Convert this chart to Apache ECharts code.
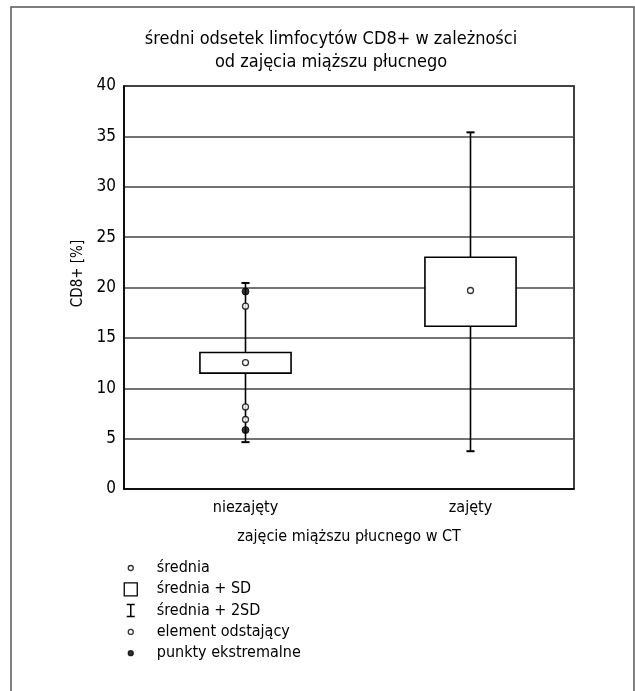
<!DOCTYPE html>
<html>
<head>
<meta charset="utf-8">
<script src="https://cdn.jsdelivr.net/npm/echarts@6/dist/echarts.min.js"></script>
<style>
html,body{margin:0;padding:0;background:#fff;}
#chart{width:635px;height:691px;}
</style>
</head>
<body>
<div id="chart"></div>
<script>
// ---- data ----
const categories = ['niezajęty', 'zajęty'];
const means      = [12.55, 19.7];
const sdLow      = [11.5, 16.15];
const sdHigh     = [13.55, 23.0];
const sd2Low     = [4.65, 3.75];
const sd2High    = [20.45, 35.4];
const outliers   = [[0, 18.15], [0, 8.15], [0, 6.9]];   // element odstający
const extremes   = [[0, 19.6], [0, 5.85]];              // punkty ekstremalne
const yTicks     = [0, 5, 10, 15, 20, 25, 30, 35, 40];

const FONT = "'Liberation Sans Narrow', 'DejaVu Sans Condensed', 'Liberation Sans', sans-serif";
const BOX_HALF = 0.2025;
const CAP_HALF = 0.018;

const boxData = categories.map((c, i) => [i, sd2Low[i], sdLow[i], means[i], sdHigh[i], sd2High[i]]);
const meanData = categories.map((c, i) => [i, means[i]]);

function renderWhisker(params, api) {
  const x = api.value(0);
  const lo = api.coord([x, api.value(1)]);
  const hi = api.coord([x, api.value(5)]);
  const capL = api.coord([x - CAP_HALF, 0])[0];
  const capR = api.coord([x + CAP_HALF, 0])[0];
  return {
    type: 'group',
    children: [
      {type: 'line', shape: {x1: lo[0], y1: lo[1], x2: hi[0], y2: hi[1]}, style: {stroke: '#000', lineWidth: 1.6}},
      {type: 'line', shape: {x1: capL, y1: lo[1], x2: capR, y2: lo[1]}, style: {stroke: '#000', lineWidth: 2}},
      {type: 'line', shape: {x1: capL, y1: hi[1], x2: capR, y2: hi[1]}, style: {stroke: '#000', lineWidth: 2}}
    ]
  };
}
function renderBox(params, api) {
  const x = api.value(0);
  const tl = api.coord([x - BOX_HALF, api.value(4)]);
  const br = api.coord([x + BOX_HALF, api.value(2)]);
  return {
    type: 'rect',
    shape: {x: tl[0], y: tl[1], width: br[0] - tl[0], height: br[1] - tl[1]},
    style: {fill: '#fff', stroke: '#000', lineWidth: 1.6}
  };
}

const B = 'M0 0M28 14'; // icon bounding box
const circ = 'M4.5 7A2.5 2.5 0 1 0 9.5 7A2.5 2.5 0 1 0 4.5 7Z';

const chart = echarts.init(document.getElementById('chart'), null, {renderer: 'canvas'});
chart.setOption({
  animation: false,
  backgroundColor: '#fff',
  textStyle: {fontFamily: FONT, color: '#000'},
  title: {
    text: 'średni odsetek limfocytów CD8+ w zależności\nod zajęcia miąższu płucnego',
    left: 326, top: 23, textAlign: 'center',
    textStyle: {fontFamily: FONT, fontSize: 18, fontWeight: 'normal', color: '#000', lineHeight: 23}
  },
  graphic: [{
    type: 'polyline',
    shape: {points: [[11, 691], [11, 7], [634, 7], [634, 691]]},
    style: {stroke: '#555', lineWidth: 1.5, fill: null},
    silent: true
  }],
  grid: {
    left: 124, right: 61, top: 86, bottom: 202,
    show: true, borderColor: '#000', borderWidth: 1.5, backgroundColor: 'transparent'
  },
  legend: {
    orient: 'vertical', left: 118, top: 555, itemGap: 5.3,
    itemWidth: 28, itemHeight: 14, selectedMode: false,
    textStyle: {fontFamily: FONT, fontSize: 16, color: '#000'},
    data: [
      {name: 'średnia', icon: 'path://' + B + circ, itemStyle: {color: '#fff', borderColor: '#000', borderWidth: 1.3}},
      {name: 'średnia + SD', icon: 'path://' + B + 'M0.5 0.5H13.5V13.5H0.5Z', itemStyle: {color: '#fff', borderColor: '#000', borderWidth: 1.3}},
      {name: 'średnia + 2SD', icon: 'path://' + B + 'M3 1H11M7 1V13M3 13H11', itemStyle: {color: '#fff', borderColor: '#000', borderWidth: 1.5}},
      {name: 'element odstający', icon: 'path://' + B + circ, itemStyle: {color: '#fff', borderColor: '#000', borderWidth: 1.3}},
      {name: 'punkty ekstremalne', icon: 'path://' + B + circ, itemStyle: {color: '#000', borderColor: '#000', borderWidth: 1.3}}
    ]
  },
  xAxis: {
    type: 'value', min: -0.54, max: 1.46,
    name: 'zajęcie miąższu płucnego w CT', nameLocation: 'middle', nameGap: 40,
    nameTextStyle: {fontFamily: FONT, fontSize: 16, color: '#000'},
    axisLine: {show: true, onZero: false, lineStyle: {color: '#000', width: 1.5}},
    axisTick: {show: false},
    splitLine: {show: false},
    axisLabel: {
      customValues: [0, 1], margin: 11,
      fontFamily: FONT, fontSize: 16, color: '#000',
      formatter: v => categories[Math.round(v)] || ''
    }
  },
  yAxis: {
    type: 'value', min: 0, max: 40, interval: 5,
    name: 'CD8+ [%]', nameLocation: 'middle', nameGap: 29, nameRotate: 90,
    nameTextStyle: {fontFamily: FONT, fontSize: 15, color: '#000', padding: [0, 0, 0, 28]},
    axisLine: {show: true, onZero: false, lineStyle: {color: '#000', width: 1.5}},
    axisTick: {show: false},
    splitLine: {show: true, lineStyle: {color: '#444', width: 1.5}},
    axisLabel: {margin: 8, fontFamily: FONT, fontSize: 17, color: '#000',
      formatter: v => yTicks.indexOf(v) >= 0 ? String(v) : ''}
  },
  series: [
    {name: 'średnia + 2SD', type: 'custom', renderItem: renderWhisker, data: boxData, z: 2,
      itemStyle: {color: '#000'}, encode: {x: 0, y: [1, 5]}},
    {name: 'średnia + SD', type: 'custom', renderItem: renderBox, data: boxData, z: 3,
      itemStyle: {color: '#fff', borderColor: '#000'}, encode: {x: 0, y: [2, 4]}},
    {name: 'średnia', type: 'scatter', data: meanData, symbol: 'circle', symbolSize: 6, z: 5,
      itemStyle: {color: '#fff', borderColor: '#000', borderWidth: 1.3}},
    {name: 'element odstający', type: 'scatter', data: outliers, symbol: 'circle', symbolSize: 6, z: 5,
      itemStyle: {color: '#fff', borderColor: '#000', borderWidth: 1.3}},
    {name: 'punkty ekstremalne', type: 'scatter', data: extremes, symbol: 'circle', symbolSize: 7, z: 5,
      itemStyle: {color: '#000', borderColor: '#000', borderWidth: 1}}
  ]
});
</script>
</body>
</html>
